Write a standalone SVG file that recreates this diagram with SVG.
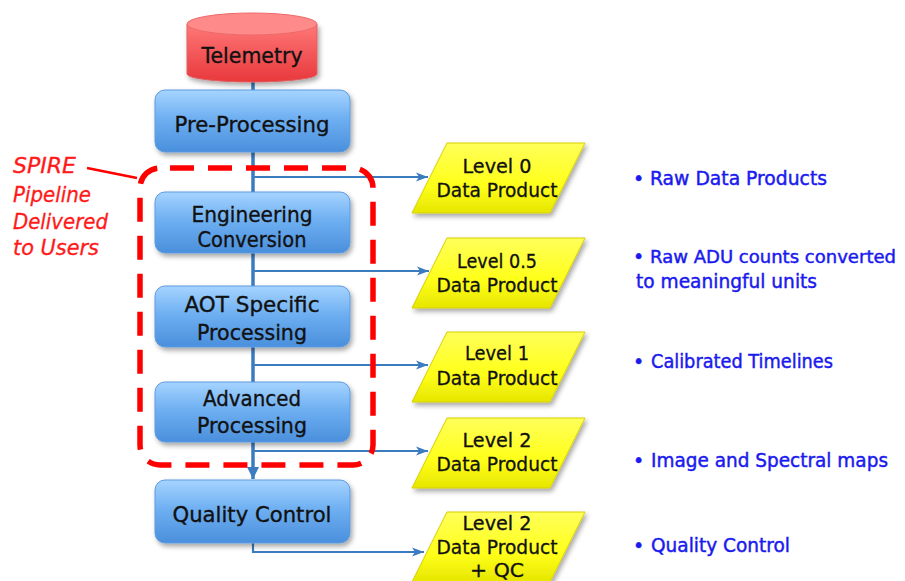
<svg xmlns="http://www.w3.org/2000/svg" width="905" height="581" viewBox="0 0 905 581">
<defs>
<linearGradient id="gBlue" x1="0" y1="0" x2="0" y2="1">
<stop offset="0" stop-color="#a6d4ff"/>
<stop offset="0.45" stop-color="#6fb0f2"/>
<stop offset="1" stop-color="#4a8fdc"/>
</linearGradient>
<linearGradient id="gYel" x1="0" y1="0" x2="0" y2="1">
<stop offset="0" stop-color="#ffff5a"/>
<stop offset="0.6" stop-color="#ffff1a"/>
<stop offset="1" stop-color="#e6e600"/>
</linearGradient>
<linearGradient id="gRed" x1="0" y1="0" x2="0" y2="1">
<stop offset="0" stop-color="#ff7878"/>
<stop offset="1" stop-color="#e8383c"/>
</linearGradient>
<filter id="sh" x="-10%" y="-10%" width="125%" height="135%">
<feDropShadow dx="2" dy="3" stdDeviation="2.5" flood-color="#000" flood-opacity="0.35"/>
</filter>
<marker id="arr" markerWidth="14" markerHeight="10" refX="12" refY="5" orient="auto" markerUnits="userSpaceOnUse">
<path d="M0,0.5 L12,5 L0,9.5 L3,5 Z" fill="#3b7cc0"/>
</marker>
<marker id="arrB" markerWidth="14" markerHeight="12" refX="12" refY="6" orient="auto" markerUnits="userSpaceOnUse">
<path d="M0,0 L12,6 L0,12 Z" fill="#3b7cc0"/>
</marker>
</defs>
<style>
.box{fill:url(#gBlue);stroke:#5d9be0;stroke-width:1;filter:url(#sh)}
.par{fill:url(#gYel);stroke:#d8d000;stroke-width:1;filter:url(#sh)}
.t{font-family:"DejaVu Sans","Noto Sans",sans-serif;font-size:21px;fill:#111;stroke:#111;stroke-width:0.35;text-anchor:middle}
.tp{font-family:"DejaVu Sans","Noto Sans",sans-serif;font-size:19px;fill:#111;stroke:#111;stroke-width:0.3;text-anchor:middle}
.b{font-family:"DejaVu Sans","Noto Sans",sans-serif;font-size:19px;fill:#1a1aee;stroke:#1a1aee;stroke-width:0.45}
.bs{font-size:17px}
.r{font-family:"DejaVu Sans","Noto Sans",sans-serif;font-size:21px;font-style:italic;fill:#ff1a1a;stroke:#ff1a1a;stroke-width:0.3}
.trunk{stroke:#3b7cc0;stroke-width:3.5;fill:none}
.br{stroke:#3b7cc0;stroke-width:2.2;fill:none}
</style>

<g id="connectors">
<line class="trunk" x1="253" y1="80" x2="253" y2="91"/>
<line class="trunk" x1="253" y1="152" x2="253" y2="192"/>
<line class="trunk" x1="253" y1="253" x2="253" y2="286"/>
<line class="trunk" x1="253" y1="347" x2="253" y2="383"/>
<line class="trunk" x1="253" y1="442" x2="253" y2="479" marker-end="url(#arrB)"/>
<polyline class="br" points="253,177 428,177" marker-end="url(#arr)"/>
<polyline class="br" points="253,271 429,271" marker-end="url(#arr)"/>
<polyline class="br" points="253,365 428,365" marker-end="url(#arr)"/>
<polyline class="br" points="253,451 428,451" marker-end="url(#arr)"/>
<polyline class="br" points="253,543 253,552 424,552" marker-end="url(#arr)"/>
</g>

<g id="telemetry">
<path d="M187,24 L187,74 A65,8 0 0 0 317,74 L317,24 Z" fill="url(#gRed)" stroke="#e06060" stroke-width="1" filter="url(#sh)"/>
<ellipse cx="252" cy="24" rx="65" ry="11" fill="#ff8a8a" stroke="#ee6a6a" stroke-width="1"/>
<text class="t" x="252" y="63" textLength="101" lengthAdjust="spacingAndGlyphs">Telemetry</text>
</g>

<g id="preprocessing">
<rect class="box" x="155" y="90" width="195" height="62" rx="10"/>
<text class="t" x="252" y="132" textLength="155" lengthAdjust="spacingAndGlyphs">Pre-Processing</text>
</g>

<g id="engineering">
<rect class="box" x="155" y="192" width="195" height="61" rx="10"/>
<text class="t" x="252" y="222" textLength="121" lengthAdjust="spacingAndGlyphs">Engineering</text>
<text class="t" x="252" y="247" textLength="109" lengthAdjust="spacingAndGlyphs">Conversion</text>
</g>

<g id="aot">
<rect class="box" x="155" y="286" width="195" height="61" rx="10"/>
<text class="t" x="252" y="312" textLength="135" lengthAdjust="spacingAndGlyphs">AOT Specific</text>
<text class="t" x="252" y="340" textLength="110" lengthAdjust="spacingAndGlyphs">Processing</text>
</g>

<g id="advanced">
<rect class="box" x="155" y="382" width="195" height="60" rx="10"/>
<text class="t" x="252" y="406" textLength="98" lengthAdjust="spacingAndGlyphs">Advanced</text>
<text class="t" x="252" y="433" textLength="110" lengthAdjust="spacingAndGlyphs">Processing</text>
</g>

<g id="quality">
<rect class="box" x="155" y="480" width="195" height="63" rx="10"/>
<text class="t" x="252" y="522" textLength="159" lengthAdjust="spacingAndGlyphs">Quality Control</text>
</g>

<g id="level0">
<polygon class="par" points="447,143 585,143 550,213 412,213"/>
<text class="tp" x="497" y="173" textLength="69" lengthAdjust="spacingAndGlyphs">Level 0</text>
<text class="tp" x="497" y="197" textLength="121" lengthAdjust="spacingAndGlyphs">Data Product</text>
</g>

<g id="level05">
<polygon class="par" points="447,238 585,238 550,308 412,308"/>
<text class="tp" x="497" y="268" textLength="80" lengthAdjust="spacingAndGlyphs">Level 0.5</text>
<text class="tp" x="497" y="292" textLength="121" lengthAdjust="spacingAndGlyphs">Data Product</text>
</g>

<g id="level1">
<polygon class="par" points="447,332 585,332 550,402 412,402"/>
<text class="tp" x="497" y="360" textLength="64" lengthAdjust="spacingAndGlyphs">Level 1</text>
<text class="tp" x="497" y="385" textLength="121" lengthAdjust="spacingAndGlyphs">Data Product</text>
</g>

<g id="level2">
<polygon class="par" points="447,418 585,418 550,488 412,488"/>
<text class="tp" x="497" y="447" textLength="69" lengthAdjust="spacingAndGlyphs">Level 2</text>
<text class="tp" x="497" y="471" textLength="121" lengthAdjust="spacingAndGlyphs">Data Product</text>
</g>

<g id="level2qc">
<polygon class="par" points="447,512 585,512 550,582 412,582"/>
<text class="tp" x="497" y="530" textLength="69" lengthAdjust="spacingAndGlyphs">Level 2</text>
<text class="tp" x="497" y="554" textLength="121" lengthAdjust="spacingAndGlyphs">Data Product</text>
<text class="tp" x="497" y="577" textLength="54" lengthAdjust="spacingAndGlyphs">+ QC</text>
</g>

<g id="spire-boundary">
<rect x="140" y="168" width="233" height="297" rx="20" fill="none" stroke="#ff0000" stroke-width="5.5" stroke-dasharray="24 14" stroke-dashoffset="-10"/>
<line x1="87" y1="168" x2="137" y2="178" stroke="#ff0000" stroke-width="2.5"/>
<text class="r" x="13" y="173" textLength="63" lengthAdjust="spacingAndGlyphs">SPIRE</text>
<text class="r" x="13" y="202" textLength="78" lengthAdjust="spacingAndGlyphs">Pipeline</text>
<text class="r" x="13" y="229" textLength="95" lengthAdjust="spacingAndGlyphs">Delivered</text>
<text class="r" x="13" y="255" textLength="86" lengthAdjust="spacingAndGlyphs">to Users</text>
</g>

<g id="descriptions">
<text class="b" x="633" y="185">•</text>
<text class="b" x="650" y="185" textLength="177" lengthAdjust="spacingAndGlyphs">Raw Data Products</text>
<text class="b" x="633" y="263">•</text>
<text class="b bs" x="650" y="263" textLength="246" lengthAdjust="spacingAndGlyphs">Raw ADU counts converted</text>
<text class="b" x="636" y="288" textLength="181" lengthAdjust="spacingAndGlyphs">to meaningful units</text>
<text class="b" x="633" y="368">•</text>
<text class="b" x="651" y="368" textLength="182" lengthAdjust="spacingAndGlyphs">Calibrated Timelines</text>
<text class="b" x="633" y="467">•</text>
<text class="b" x="651" y="467" textLength="237" lengthAdjust="spacingAndGlyphs">Image and Spectral maps</text>
<text class="b" x="633" y="552">•</text>
<text class="b" x="651" y="552" textLength="139" lengthAdjust="spacingAndGlyphs">Quality Control</text>
</g>
</svg>
